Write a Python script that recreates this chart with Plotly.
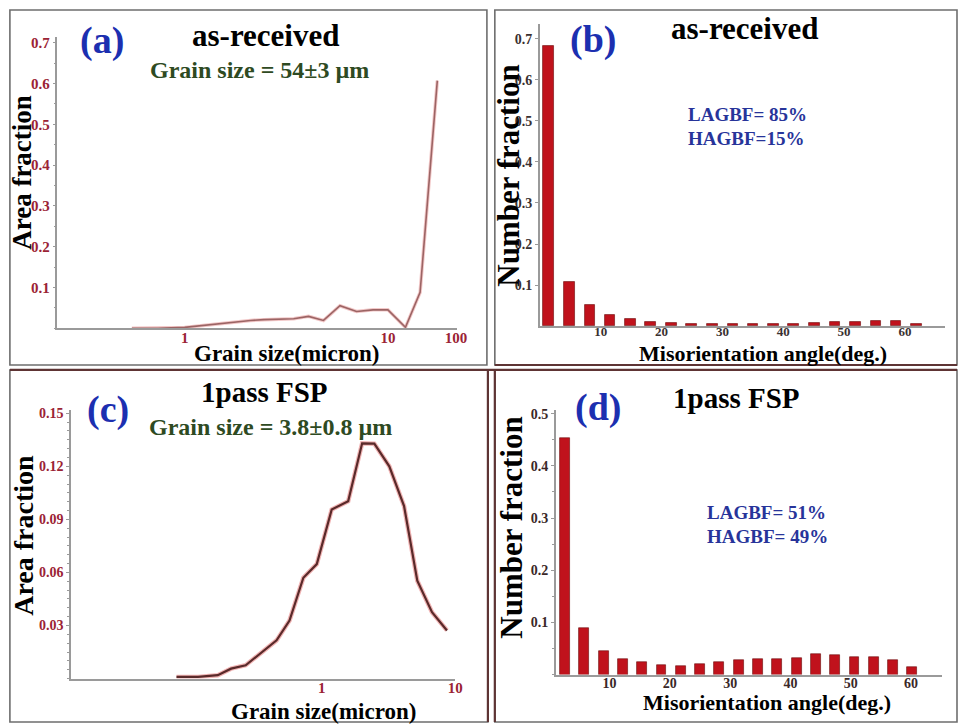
import plotly.graph_objects as go

# ---------------- data ----------------
a_size = [0.55, 0.74, 1.0, 1.30, 1.69, 2.11, 2.46, 3.44, 4.07, 4.82, 5.81, 7.01, 8.45, 10.0, 12.2, 14.4, 17.5]
a_frac = [0.0, 0.0, 0.002, 0.008, 0.0146, 0.019, 0.021, 0.023, 0.029, 0.019, 0.055, 0.041, 0.045, 0.045, 0.002, 0.088, 0.607]

b_angle = [1.4, 4.8, 8.2, 11.5, 14.9, 18.2, 21.6, 24.9, 28.3, 31.7, 35.0, 38.4, 41.7, 45.1, 48.5, 51.8, 55.2, 58.5, 61.9]
b_frac = [0.682, 0.108, 0.053, 0.028, 0.019, 0.011, 0.007, 0.006, 0.006, 0.006, 0.006, 0.006, 0.006, 0.007, 0.010, 0.010, 0.012, 0.014, 0.006]

c_size = [0.082, 0.119, 0.167, 0.21, 0.27, 0.36, 0.46, 0.575, 0.73, 0.92, 1.19, 1.58, 2.01, 2.48, 3.21, 4.14, 5.2, 6.7, 8.67]
c_frac = [0.0009, 0.0009, 0.0019, 0.0056, 0.0075, 0.015, 0.0216, 0.0328, 0.057, 0.0647, 0.0956, 0.1003, 0.133, 0.1328, 0.12, 0.0975, 0.0553, 0.0375, 0.0272]

d_angle = [2.6, 5.8, 9.0, 12.2, 15.4, 18.6, 21.8, 25.0, 28.2, 31.4, 34.6, 37.8, 41.0, 44.2, 47.4, 50.6, 53.8, 57.0, 60.2]
d_frac = [0.454, 0.089, 0.045, 0.029, 0.024, 0.019, 0.0165, 0.021, 0.024, 0.027, 0.030, 0.029, 0.032, 0.040, 0.037, 0.033, 0.033, 0.027, 0.015]

a_yticks = [0.1, 0.2, 0.3, 0.4, 0.5, 0.6, 0.7]
a_xtickvals = [1, 10, 21.6]
a_xticktext = ["1", "10", "100"]
b_yticks = [0.1, 0.2, 0.3, 0.4, 0.5, 0.6, 0.7]
c_yticks = [0.03, 0.06, 0.09, 0.12, 0.15]
c_xtickvals = [1, 10]
c_xticktext = ["1", "10"]
d_yticks = [0.1, 0.2, 0.3, 0.4, 0.5]
angle_ticks = [10, 20, 30, 40, 50, 60]

# ---------------- layout helpers ----------------
W, H = 967, 724
SERIF = "Liberation Serif"
TICKRED = "#9b2335"
AXGRAY = "#9a9a9a"


def xd(a, b):
    return [a / W, b / W]


def yd(top, bottom):
    return [1 - bottom / H, 1 - top / H]


def px(x):
    return x / W


def py(y):
    return 1 - y / H


def tf(size, color):
    return dict(family=SERIF, size=size, weight="bold", color=color)


fig = go.Figure()

# panel (a)
fig.add_trace(go.Scatter(x=a_size, y=a_frac, mode="lines", line=dict(color="#f2c8c8", width=3.5),
                         xaxis="x", yaxis="y", showlegend=False, hoverinfo="skip"))
fig.add_trace(go.Scatter(x=a_size, y=a_frac, mode="lines", line=dict(color="#9c6464", width=1.6),
                         xaxis="x", yaxis="y", showlegend=False))
# panel (b)
fig.add_trace(go.Bar(x=b_angle, y=b_frac, width=1.74, marker=dict(color="#c0121c", line=dict(color="#6a0a0a", width=0.6)),
                     xaxis="x2", yaxis="y2", showlegend=False))
# panel (c)
fig.add_trace(go.Scatter(x=c_size, y=c_frac, mode="lines", line=dict(color="#f0b4b4", width=4.5),
                         xaxis="x3", yaxis="y3", showlegend=False, hoverinfo="skip"))
fig.add_trace(go.Scatter(x=c_size, y=c_frac, mode="lines", line=dict(color="#5a2a2a", width=2.2),
                         xaxis="x3", yaxis="y3", showlegend=False))
# panel (d)
fig.add_trace(go.Bar(x=d_angle, y=d_frac, width=1.64, marker=dict(color="#c0121c", line=dict(color="#6a0a0a", width=0.6)),
                     xaxis="x4", yaxis="y4", showlegend=False))

xcommon = dict(showline=True, linecolor=AXGRAY, linewidth=1.5, showgrid=False, zeroline=False,
               ticks="", ticklabelstandoff=-5)
ycommon = dict(showline=True, linecolor=AXGRAY, linewidth=1.5, showgrid=False, zeroline=False,
               ticks="outside", ticklen=3, tickcolor=AXGRAY, ticklabelstandoff=0)

fig.update_layout(
    width=W, height=H,
    margin=dict(l=0, r=0, t=0, b=0),
    paper_bgcolor="white", plot_bgcolor="white",
    bargap=0,
    xaxis=dict(xcommon, type="log", domain=xd(58, 462), range=[-0.626, 1.341], anchor="y",
               tickvals=a_xtickvals, ticktext=a_xticktext, tickfont=tf(15, TICKRED)),
    yaxis=dict(ycommon, domain=yd(33, 326), range=[0, 0.7146], anchor="x",
               tickvals=a_yticks, tickfont=tf(15, TICKRED),
               minor=dict(dtick=0.05, ticks="outside", ticklen=2, tickcolor=AXGRAY)),
    xaxis2=dict(xcommon, domain=xd(545.5, 955), range=[0, 66.6], anchor="y2", ticklabelstandoff=-8,
                tickvals=angle_ticks, tickfont=tf(13, "#3a3030")),
    yaxis2=dict(ycommon, domain=yd(20, 324), range=[0, 0.736], anchor="x2",
                tickvals=b_yticks, tickfont=tf(14, "#3a3030")),
    xaxis3=dict(xcommon, type="log", domain=xd(71.7, 460), range=[-1.876, 1.0], anchor="y3",
                tickvals=c_xtickvals, ticktext=c_xticktext, tickfont=tf(15, TICKRED)),
    yaxis3=dict(ycommon, domain=yd(408, 678.3), range=[0, 0.152], anchor="x3",
                tickvals=c_yticks, tickfont=tf(14, TICKRED),
                minor=dict(dtick=0.005, ticks="outside", ticklen=2, tickcolor=AXGRAY)),
    xaxis4=dict(xcommon, domain=xd(561.7, 951.7), range=[1.1, 65.1], anchor="y4",
                tickvals=angle_ticks, tickfont=tf(14, "#3a2828")),
    yaxis4=dict(ycommon, domain=yd(408.3, 674.3), range=[0, 0.507], anchor="x4",
                tickvals=d_yticks, tickfont=tf(14, "#3a2828"),
                minor=dict(dtick=0.05, ticks="outside", ticklen=2, tickcolor=AXGRAY)),
)

# ---------------- frames ----------------
GRAYF = "#6e6e6e"
BROWN = "#5e3434"
frames = [
    (10, 6, 492, 363, GRAYF, 1.6),
    (500, 6, 967, 363, GRAYF, 1.6),
    (10, 368, 493, 722, GRAYF, 1.6),
    (500, 368, 967, 722, GRAYF, 1.6),
]
shapes = []
for x0, y0, x1, y1, c, w in frames:
    shapes.append(dict(type="rect", xref="paper", yref="paper", x0=px(x0), x1=px(x1), y0=py(y1), y1=py(y0),
                       line=dict(color=c, width=w), fillcolor="rgba(0,0,0,0)", layer="above"))
for x0, y0, x1, y1 in [(500, 363, 967, 363), (10, 368, 967, 368), (493, 368, 493, 722), (500, 368, 500, 722)]:
    shapes.append(dict(type="line", xref="paper", yref="paper", x0=px(x0), x1=px(x1), y0=py(y0), y1=py(y1),
                       line=dict(color=BROWN, width=2.2), layer="above"))
fig.update_layout(shapes=shapes)

# ---------------- text ----------------
BLUE = "#1c2fb0"
NAVY = "#27349a"
GREEN = "#2e4a22"


def ann(text, x, y, size, color="black", angle=0, xanchor="center"):
    fig.add_annotation(text=text, x=px(x), y=py(y), xref="paper", yref="paper", showarrow=False,
                       xanchor=xanchor, yanchor="middle", textangle=angle,
                       font=dict(family=SERIF, size=size, color=color, weight="bold"))


# panel (a)
ann("(a)", 103, 37, 38, BLUE)
ann("as-received", 268, 32, 31)
ann("Grain size = 54±3 µm", 262, 66, 24, GREEN)
ann("Area fraction", 22, 169, 27, angle=-90)
ann("Grain size(micron)", 289, 351, 23)
# panel (b)
ann("(b)", 599, 36, 38, BLUE)
ann("as-received", 752, 25, 31)
ann("LAGBF= 85%", 693, 111, 19, NAVY, xanchor="left")
ann("HAGBF=15%", 693, 135, 19, NAVY, xanchor="left")
ann("Number fraction", 513, 173, 31, angle=-90)
ann("Misorientation angle(deg.)", 771, 351, 22)
# panel (c)
ann("(c)", 109, 408, 38, BLUE)
ann("1pass FSP", 267, 390, 29)
ann("Grain size = 3.8±0.8 µm", 273, 425, 24, GREEN)
ann("Area fraction", 23, 534, 28, angle=-90)
ann("Grain size(micron)", 327, 711, 23)
# panel (d)
ann("(d)", 604, 406, 38, BLUE)
ann("1pass FSP", 744, 396, 29)
ann("LAGBF= 51%", 712, 511, 19, NAVY, xanchor="left")
ann("HAGBF= 49%", 712, 535, 19, NAVY, xanchor="left")
ann("Number fraction", 516, 527, 31, angle=-90)
ann("Misorientation angle(deg.)", 775, 702, 22)

fig.write_html("out.html")
